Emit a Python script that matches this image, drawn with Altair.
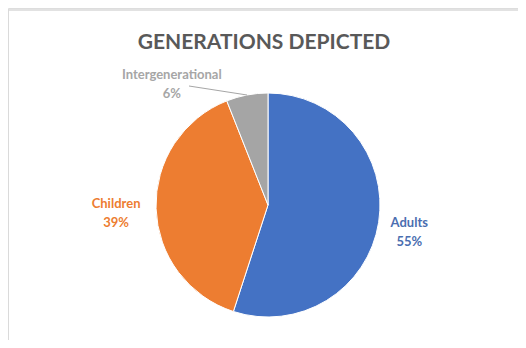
import altair as alt
import pandas as pd

categories = ["Adults", "Children", "Intergenerational"]
values = [55, 39, 6]
order_idx = [0, 1, 2]
slice_colors = ["#4472C4", "#ED7D31", "#A5A5A5"]
label_colors = {"Adults": "#4A6EB0", "Children": "#ED7D31", "Intergenerational": "#A6A6A6"}
title_text = "GENERATIONS DEPICTED"

df = pd.DataFrame({"cat": categories, "value": values, "idx": order_idx})

W, H = 510, 332
CX, CY = 260, 197
R = 112
FONT = "Lato"

base = alt.Chart(df).transform_calculate(
    label="datum.cat + '\\n' + datum.value + '%'"
)

theta = alt.Theta("value:Q", stack=True)
order = alt.Order("idx:Q")

pie = base.mark_arc(outerRadius=R, stroke="white", strokeWidth=1).encode(
    theta=theta,
    order=order,
    color=alt.Color("cat:N", scale=alt.Scale(domain=categories, range=slice_colors), legend=None),
    x=alt.value(CX),
    y=alt.value(CY),
)

def label_layer(cat, radius, dx, dy):
    return base.mark_text(
        radius=radius, dx=dx, dy=dy, lineBreak="\n", font=FONT, fontWeight="bold",
        fontSize=13, lineHeight=19, align="center", baseline="middle",
        color=label_colors[cat],
    ).encode(
        theta=theta,
        order=order,
        x=alt.value(CX),
        y=alt.value(CY),
        text=alt.condition(f"datum.cat == '{cat}'", alt.Text("label:N"), alt.value("")),
    )

labels = [
    label_layer("Adults", 142, 1, -4),
    label_layer("Children", 152, 0, -6),
    label_layer("Intergenerational", 124, -73, -8),
]

title = alt.Chart(pd.DataFrame({"t": [title_text]})).mark_text(
    font=FONT, fontWeight="bold", fontSize=21, color="#595959", align="center", baseline="middle"
).encode(text="t:N", x=alt.value(256), y=alt.value(35))

frame_top = alt.Chart(pd.DataFrame({"a": [0]})).mark_rule(color="#D9D9D9", strokeWidth=1.5).encode(
    x=alt.value(0), x2=alt.value(W + 10), y=alt.value(2)
)
frame_left = alt.Chart(pd.DataFrame({"a": [0]})).mark_rule(color="#D9D9D9", strokeWidth=1.5).encode(
    x=alt.value(0), y=alt.value(2), y2=alt.value(H + 10)
)
leader = alt.Chart(pd.DataFrame({"a": [0]})).mark_rule(color="#A6A6A6", strokeWidth=1).encode(
    x=alt.value(181), x2=alt.value(239), y=alt.value(78), y2=alt.value(87)
)

chart = alt.layer(frame_top, frame_left, pie, *labels, leader, title).properties(
    width=W, height=H, autosize=alt.AutoSizeParams(type="none"), padding=0,
).configure_view(stroke=None).configure(background="white")

chart.save("out.html", embed_options={"renderer": "svg", "actions": False})
